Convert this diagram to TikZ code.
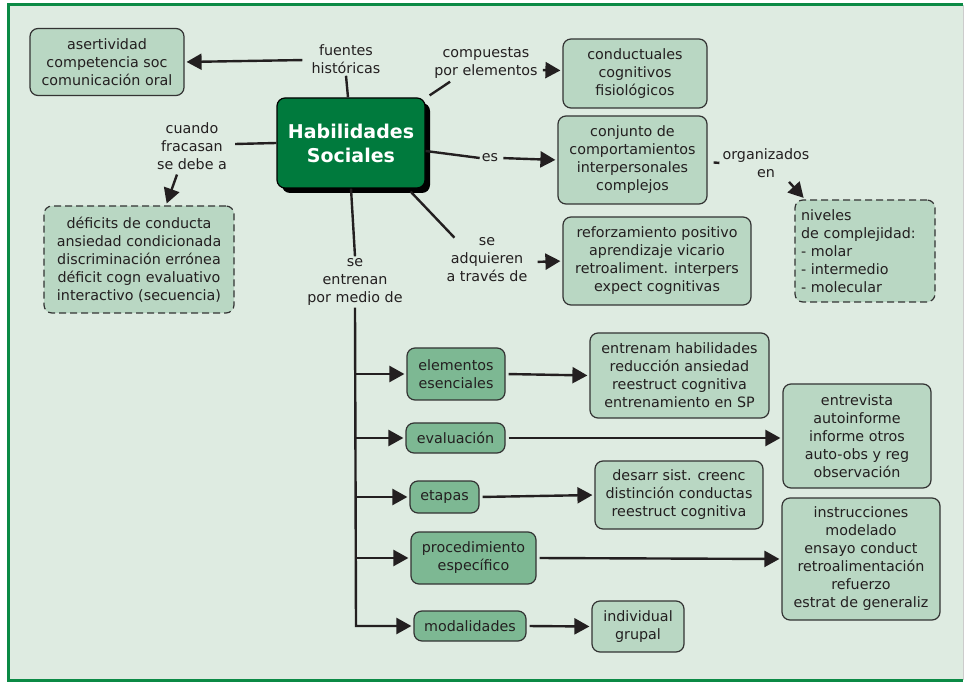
\documentclass[tikz,border=0pt]{standalone}
\usepackage{fontspec}
\setmainfont{DejaVu Sans}
\usetikzlibrary{arrows.meta,shadows}

\definecolor{bgc}{HTML}{DEEBE1}
\definecolor{framec}{HTML}{0B8A45}
\definecolor{lbox}{HTML}{B9D7C3}
\definecolor{dbox}{HTML}{7DB893}
\definecolor{mainc}{HTML}{007A3D}
\definecolor{edgec}{HTML}{333333}
\definecolor{ink}{HTML}{231F20}

\begin{document}
\begin{tikzpicture}[x=1pt,y=-1pt, font=\fontsize{14.3}{18}\selectfont, text=ink,
 box/.style={draw=edgec, line width=1.2pt, rounded corners=8pt, fill=lbox, align=center, inner sep=0pt},
 dk/.style={box, fill=dbox},
 dsh/.style={box, dash pattern=on 7pt off 4pt},
 lab/.style={align=center, inner sep=2pt},
 ln/.style={draw=ink, line width=2.4pt},
 arr/.style={ln, -{Triangle[length=15pt,width=16pt]}, shorten >=2pt, shorten <=3pt}
]
\useasboundingbox (0,0) rectangle (964,684);
\fill[white] (0,0) rectangle (964,684);
\fill[bgc] (8,5) rectangle (963,680);
\draw[framec, line width=3pt] (963,5) -- (8,5) -- (8,680) -- (963,680);
\draw[black!20, line width=1pt] (963,5) -- (963,680);

% main node
\node[draw=black, fill=mainc, rounded corners=8pt, line width=1.2pt,
  minimum width=148, minimum height=90, text=white,
  font=\fontsize{19}{24}\selectfont\bfseries, align=center,
  drop shadow={shadow xshift=5pt, shadow yshift=-5pt, fill=black, opacity=1}]
  (main) at (351,143) {Habilidades\\Sociales};

% boxes
\node[box, minimum width=154, minimum height=67] (aser) at (107,62) {asertividad\\competencia soc\\comunicación oral};
\node[box, minimum width=144, minimum height=69] (cond) at (635,73.5) {conductuales\\cognitivos\\fisiológicos};
\node[box, minimum width=149, minimum height=88] (conj) at (632.5,160) {conjunto de\\comportamientos\\interpersonales\\complejos};
\node[dsh, minimum width=140, minimum height=102, text width=128, align=left] (niv) at (865,251) {niveles\\de complejidad:\\- molar\\- intermedio\\- molecular};
\node[dsh, minimum width=190, minimum height=107] (def) at (139,259.5) {déficits de conducta\\ansiedad condicionada\\discriminación errónea\\déficit cogn evaluativo\\interactivo (secuencia)};
\node[box, minimum width=188, minimum height=88] (ref) at (657,261) {reforzamiento positivo\\aprendizaje vicario\\retroaliment. interpers\\expect cognitivas};

\node[dk, minimum width=98, minimum height=52] (ee) at (456,374) {elementos\\esenciales};
\node[box, minimum width=179, minimum height=85] (ent) at (679.5,375.5) {entrenam habilidades\\reducción ansiedad\\reestruct cognitiva\\entrenamiento en SP};
\node[dk, minimum width=99, minimum height=30] (ev) at (455.5,438) {evaluación};
\node[box, minimum width=148, minimum height=104] (entr) at (857,436) {entrevista\\autoinforme\\informe otros\\auto-obs y reg\\observación};
\node[dk, minimum width=69, minimum height=32] (et) at (444.5,497) {etapas};
\node[box, minimum width=168, minimum height=68] (des) at (679,495) {desarr sist. creenc\\distinción conductas\\reestruct cognitiva};
\node[dk, minimum width=125, minimum height=52] (pr) at (473.5,558) {procedimiento\\específico};
\node[box, minimum width=158, minimum height=122] (ins) at (861,559) {instrucciones\\modelado\\ensayo conduct\\retroalimentación\\refuerzo\\estrat de generaliz};
\node[dk, minimum width=112, minimum height=30] (mod) at (470,626) {modalidades};
\node[box, minimum width=92, minimum height=51] (ind) at (638,626.5) {individual\\grupal};

% linking labels
\node[lab] (fh) at (346,59) {fuentes\\históricas};
\node[lab] (ce) at (486,63) {compuestas\\por elementos};
\node[lab] (cf) at (192,146) {cuando\\fracasan\\se debe a};
\node[lab] (es) at (490,158) {es};
\node[lab] (oe) at (766,163) {organizados\\en};
\node[lab] (sa) at (487,260) {se\\adquieren\\a través de};
\node[lab] (se) at (355,282) {se\\entrenan\\por medio de};
\coordinate (tb) at (356,626);

% connectors
\draw[ln] ([shift={(-3,0)}]main.north) -- (fh.south);
\draw[arr] ([shift={(-4,1)}]fh.west) -- (aser.east);

\draw[ln] ([shift={(4,-2)}]main.north east) -- ([shift={(18,1)}]ce.south west);
\draw[arr] ([shift={(0,7)}]ce.east) -- ([shift={(0,-3)}]cond.west);

\draw[ln] (main.west) -- ([shift={(6,-2)}]cf.east);
\draw[arr] ([shift={(-14,0)}]cf.south) -- ([shift={(27,0)}]def.north);

\draw[ln] ([shift={(0,8)}]main.east) -- (es.west);
\draw[arr] (es.east) -- (conj.west);

\draw[ln, shorten <=6pt, shorten >=1pt] ([shift={(0,2)}]conj.east) -- (oe.west);
\draw[arr] ([shift={(21,0)}]oe.south) -- ([shift={(-60,0)}]niv.north);

\draw[ln] ([shift={(-15,3)}]main.south east) -- ([shift={(10,2)}]sa.north west);
\draw[arr] ([shift={(5,2)}]sa.east) -- (ref.west);

\draw[ln] (main.south) -- (se.north);
\draw[arr, shorten <=0pt] (se.south) -- (tb) -- (mod.west);
\draw[arr, shorten <=0pt] (tb |- ee.west) -- (ee.west);
\draw[arr, shorten <=0pt] (tb |- ev.west) -- (ev.west);
\draw[arr, shorten <=0pt] (tb |- et.west) -- (et.west);
\draw[arr, shorten <=0pt] (tb |- pr.west) -- (pr.west);

\draw[arr] (ee.east) -- (ent.west);
\draw[arr] (ev.east) -- (ev.east -| entr.west);
\draw[arr] (et.east) -- (des.west);
\draw[arr] (pr.east) -- (ins.west);
\draw[arr] (mod.east) -- (ind.west);
\end{tikzpicture}
\end{document}
